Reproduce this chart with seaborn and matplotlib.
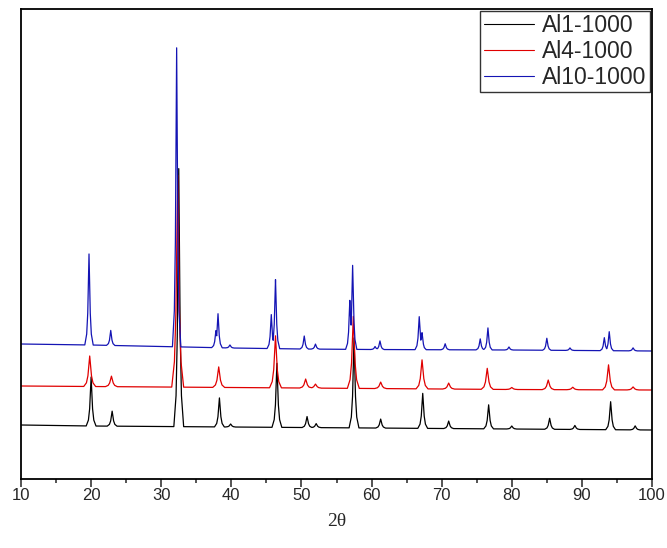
import numpy as np
import pandas as pd
import matplotlib
matplotlib.use("Agg")
import matplotlib.pyplot as plt
import seaborn as sns

labels = ["Al1-1000", "Al4-1000", "Al10-1000"]
colors = ["#000000", "#e00000", "#1414b4"]
offsets = [0, 40, 80]

# background knots (2theta, counts)
al1_bg_x = [10, 20, 40, 60, 80, 100]
al1_bg_y = [54, 53, 52, 51, 50, 49]
al4_bg_x = [10, 20, 40, 60, 80, 100]
al4_bg_y = [53, 52.5, 51.5, 50.5, 49.5, 49]
al10_bg_x = [10, 20, 30, 40, 50, 60, 80, 100]
al10_bg_y = [55, 54, 52.5, 51, 50, 49.5, 49, 48]

# peak positions (2theta) and heights above background
al1_pos = [20.0, 23.0, 32.5, 38.3, 39.9, 46.5, 50.8, 52.1, 57.5, 61.3,
           67.3, 71.0, 76.7, 80.0, 85.4, 89.0, 94.1, 97.6]
al1_h = [49, 15, 258, 29, 3, 64, 11, 4, 90, 9, 35, 7.5, 24, 3, 11, 4, 28, 4]

al4_pos = [19.8, 22.9, 32.35, 38.2, 46.3, 50.6, 52.0, 57.4, 61.3, 67.2,
           71.0, 76.5, 80.0, 85.2, 88.7, 93.8, 97.3]
al4_h = [30.5, 10.5, 212, 20.5, 52, 9, 4, 72, 6.5, 29, 6, 21, 2, 9.6, 2.5, 25, 3]

al10_pos = [19.7, 22.8, 32.2, 37.8, 38.1, 39.8, 45.7, 46.3, 50.4, 52.0,
            56.9, 57.3, 60.5, 61.2, 66.8, 67.2, 70.5, 75.5, 76.6, 79.6,
            85.0, 88.3, 93.2, 93.9, 97.3]
al10_h = [91, 15, 299, 17, 34, 3, 34, 69, 13, 5, 49, 84, 3, 8.6, 33, 17,
          6, 11, 22, 3, 12, 2.5, 13, 19, 3]

# half base width of the peaks (deg)
peak_w = [0.7, 0.85, 0.6]

# peak outline
shape_dx = np.array([-1, -0.55, -0.3, -0.12, 0, 0.12, 0.3, 0.55, 1])
shape_f = np.array([0, 0.12, 0.35, 0.75, 1, 0.75, 0.35, 0.12, 0])


def trace(bg_x, bg_y, pos, h, w):
    xs = np.concatenate([np.array(bg_x, float)] + [p + shape_dx * w for p in pos])
    xs = np.unique(np.clip(xs, 10, 100))
    pk = np.max([hh * np.interp(xs, p + shape_dx * w, shape_f) for p, hh in zip(pos, h)], axis=0)
    return xs, np.interp(xs, bg_x, bg_y) + pk


series = [
    (al1_bg_x, al1_bg_y, al1_pos, al1_h),
    (al4_bg_x, al4_bg_y, al4_pos, al4_h),
    (al10_bg_x, al10_bg_y, al10_pos, al10_h),
]

frames = []
for lab, off, w, (bx, by, pos, h) in zip(labels, offsets, peak_w, series):
    x, y = trace(bx, by, pos, h, w)
    frames.append(pd.DataFrame({"2theta": x, "counts": y + off, "sample": lab}))
df = pd.concat(frames, ignore_index=True)

sns.set_style("white")
plt.rcParams["font.family"] = ["Liberation Sans", "DejaVu Sans"]

fig = plt.figure(figsize=(6.67, 5.48), dpi=100)
ax = fig.add_axes([21 / 667, 69 / 548, 631 / 667, 470 / 548])

sns.lineplot(data=df, x="2theta", y="counts", hue="sample", palette=colors,
             estimator=None, lw=0.9, ax=ax)

ax.set_xlim(10, 100)
ax.set_ylim(0, 470)
ax.set_yticks([])
ax.set_xticks(range(10, 101, 10))
ax.set_xticks(range(15, 100, 10), minor=True)
ax.tick_params(axis="x", which="major", direction="out", length=5.5, width=1.1,
               pad=1, labelsize=12, bottom=True, top=False)
ax.tick_params(axis="x", which="minor", direction="out", length=3, width=1.1,
               bottom=True, top=False)
for s in ax.spines.values():
    s.set_color("black")
    s.set_linewidth(1.3)

ax.set_xlabel("2θ", fontsize=14, family=["Liberation Serif", "DejaVu Serif"], labelpad=7)
ax.set_ylabel("")

leg = ax.legend(loc="upper right", fontsize=16.5, frameon=True, fancybox=False,
                edgecolor="black", handlelength=2.2, handletextpad=0.35,
                borderaxespad=0.08, borderpad=0.15, labelspacing=0.12)
leg.get_frame().set_linewidth(1.0)
for ln in leg.get_lines():
    ln.set_linewidth(0.8)

fig.savefig("out.png", dpi=100)
